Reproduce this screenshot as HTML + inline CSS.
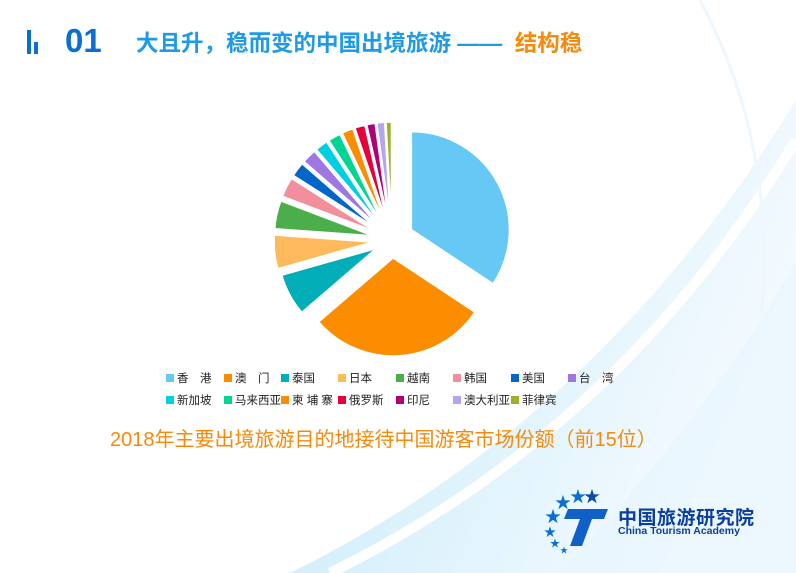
<!DOCTYPE html>
<html><head><meta charset="utf-8"><style>
body{margin:0;width:796px;height:573px;overflow:hidden;background:#fff;font-family:"Liberation Sans","Noto Sans CJK SC",sans-serif;position:relative}
.abs{position:absolute}
.leg{position:absolute;font-size:11.5px;color:#222;line-height:14px;white-space:nowrap}
.leg i{display:inline-block;width:8px;height:8px;margin-right:3px;vertical-align:0px}
</style></head><body>
<svg class="abs" style="left:0;top:0" width="796" height="573">
<defs>
<linearGradient id="bg" x1="0" y1="0" x2="1" y2="0.4">
<stop offset="0" stop-color="#b3e4f8"/><stop offset="1" stop-color="#f2f9fe"/></linearGradient>
</defs>
<path d="M290 573 Q600 420 796 100 L796 573 Z" fill="url(#bg)" opacity="0.8"/>
<path d="M330 573 Q620 430 796 140" stroke="#fff" stroke-width="10" fill="none"/>
<path d="M560 573 Q720 400 796 260 L796 573Z" fill="#e6f5fd" opacity="0.6"/>
<path d="M700 0 Q780 150 760 330" stroke="#eef7fd" stroke-width="3" fill="none"/>
<g id="pie"></g>
</svg>
<div class="abs" style="left:27px;top:30px;width:4px;height:24px;background:#0a6fd0"></div>
<div class="abs" style="left:34px;top:42px;width:4px;height:12px;background:#0a6fd0"></div>
<div class="abs" style="left:65px;top:22px;font-size:33px;font-weight:bold;color:#0a6fd0">01</div>
<div class="abs" style="left:136px;top:26px;font-size:22.5px;font-weight:bold;color:#1e9be4">大且升，稳而变的中国出境旅游 ——&nbsp; <span style="color:#f58a0b">结构稳</span></div>
<div class="leg" style="left:166px;top:372px"><i style="background:#66c8f5"></i>香　港</div>
<div class="leg" style="left:224px;top:372px"><i style="background:#fc8c00"></i>澳　门</div>
<div class="leg" style="left:281px;top:372px"><i style="background:#01aeb8"></i>泰国</div>
<div class="leg" style="left:338px;top:372px"><i style="background:#fdb95c"></i>日本</div>
<div class="leg" style="left:396px;top:372px"><i style="background:#4cae4a"></i>越南</div>
<div class="leg" style="left:453px;top:372px"><i style="background:#f38f9d"></i>韩国</div>
<div class="leg" style="left:511px;top:372px"><i style="background:#0465c8"></i>美国</div>
<div class="leg" style="left:568px;top:372px"><i style="background:#9e78e0"></i>台　湾</div>
<div class="leg" style="left:166px;top:394px"><i style="background:#00cfe0"></i>新加坡</div>
<div class="leg" style="left:224px;top:394px"><i style="background:#00d596"></i>马来西亚</div>
<div class="leg" style="left:281px;top:394px"><i style="background:#fc8c00"></i>柬 埔 寨</div>
<div class="leg" style="left:338px;top:394px"><i style="background:#e6003a"></i>俄罗斯</div>
<div class="leg" style="left:396px;top:394px"><i style="background:#ad0079"></i>印尼</div>
<div class="leg" style="left:453px;top:394px"><i style="background:#b7a3f0"></i>澳大利亚</div>
<div class="leg" style="left:511px;top:394px"><i style="background:#9cb02a"></i>菲律宾</div>
<div class="abs" style="left:110px;top:423px;font-size:20px;color:#f58a0b">2018年主要出境旅游目的地接待中国游客市场份额（前15位）</div>
<svg class="abs" style="left:540px;top:484px" width="75" height="70">
<g fill="#0a6fd0" font-size="16">
<text x="30" y="18">★</text><text x="44" y="18" fill="#0b4aa8">★</text><text x="15" y="24">★</text><text x="5" y="38">★</text><text x="4" y="52" font-size="12">★</text><text x="10" y="63" font-size="10">★</text><text x="20" y="69" font-size="8">★</text></g>
<path d="M28 25 L68 25 L64 35 L52 35 L42 62 L30 62 L40 35 L24 35 Z" fill="#1060c8"/>
</svg>
<div class="abs" style="left:618px;top:503px;font-size:19px;font-weight:bold;color:#0b3e9e;letter-spacing:0.5px">中国旅游研究院</div>
<div class="abs" style="left:618px;top:525px;font-size:10.5px;font-weight:bold;color:#0b3e9e">China Tourism Academy</div>
<script>
var data=[[34.8,'#66c8f5',22],[29.8,'#fc8c00',18],[7,'#01aeb8',18],[5.6,'#fdb95c',20],[4.7,'#4cae4a',20],[3.3,'#f38f9d',20],[2.4,'#0465c8',20],[2.4,'#9e78e0',20],[2.1,'#00cfe0',20],[2.1,'#00d596',20],[1.9,'#fc8c00',20],[1.7,'#e6003a',20],[1.4,'#ad0079',20],[1.3,'#b7a3f0',20],[0.9,'#9cb02a',20]];
var tot=data.reduce((a,d)=>a+d[0],0),a=0,cx=392,cy=240,r=98,s='';
data.forEach(d=>{var a0=a,a1=a+d[0]/tot*2*Math.PI;a=a1;var m=(a0+a1)/2,ox=cx+d[2]*Math.sin(m),oy=cy-d[2]*Math.cos(m);
var x0=ox+r*Math.sin(a0),y0=oy-r*Math.cos(a0),x1=ox+r*Math.sin(a1),y1=oy-r*Math.cos(a1);
s+='<path d="M'+ox+' '+oy+'L'+x0+' '+y0+'A'+r+' '+r+' 0 '+(a1-a0>Math.PI?1:0)+' 1 '+x1+' '+y1+'Z" fill="'+d[1]+'" stroke="#fff" stroke-width="1.5"/>';});
document.getElementById('pie').innerHTML=s;
</script>
</body></html>
